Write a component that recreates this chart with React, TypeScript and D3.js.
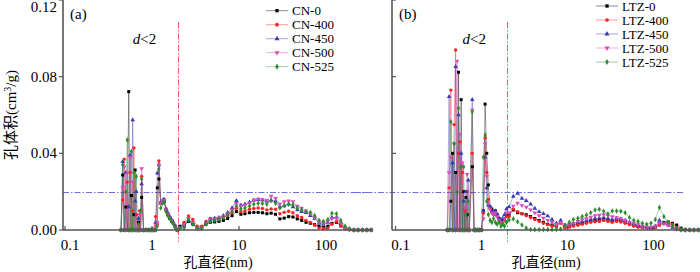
// @ts-nocheck
import React from 'react'
import * as d3 from 'd3'

// pore diameters (nm)
const microA = [0.44, 0.46, 0.48, 0.5, 0.52, 0.54, 0.56, 0.58, 0.6, 0.62, 0.64, 0.66, 0.68, 0.7, 0.72, 0.74, 0.76, 0.8,
  0.85, 0.9, 0.95, 1.0, 1.05, 1.1, 1.15, 1.2, 1.26, 1.32, 1.38, 1.45, 1.52, 1.6, 1.68, 1.76, 1.85, 1.95]
const microB = [0.4, 0.42, 0.44, 0.46, 0.48, 0.5, 0.52, 0.54, 0.56, 0.58, 0.6, 0.62, 0.64, 0.66, 0.68, 0.7, 0.72, 0.78,
  0.82, 0.86, 0.9, 0.95, 1.0, 1.05, 1.1, 1.15, 1.2, 1.26, 1.32, 1.38, 1.45, 1.52, 1.6, 1.68, 1.76, 1.85, 1.95]
const meso = [2.09, 2.34, 2.63, 2.95, 3.31, 3.72, 4.17, 4.68, 5.25, 5.89, 6.61, 7.41, 8.32, 9.33, 10.5, 11.7, 13.2, 14.8,
  16.6, 18.6, 20.9, 23.4, 26.3, 29.5, 33.1, 37.2, 41.7, 46.8, 52.5, 58.9, 66.1, 74.1, 83.2, 93.3, 105, 117, 132, 148,
  166, 186, 209, 234, 263, 295, 331]

// pore volume (cm3/g), panel (a)
const cn0 = [0, .0287, 0, .012, 0, .0722, 0, .018, 0, .008, .0313, 0, 0, .004, 0, 0, .017, 0,
  0, 0, 0, 0, 0, 0, .022, .0266, .014, .0145, .015, .0105, .008, .006, .0045, .0035, .002, 0,
  .002, .003, .0045, .003, .001, .001, .003, .004, .0042, .0045, .005, .006, .0075, .0096, .0082, .0085, .009, .0092,
  .0092, .009, .0085, .0088, .0082, .0058, .0062, .007, .0068, .0058, .005, .004, .0035, .0028, .002, .0015, .002,
  .0035, .004, .0022, .001, .0003, 0, 0, 0, 0, 0]
const cn400 = [0, .0157, .037, 0, .025, 0, .030, 0, .01, .0428, 0, .008, 0, 0, .010, 0, .028, 0,
  0, 0, 0, 0, 0, .007, .003, .036, .0145, .015, .016, .011, .0085, .0065, .005, .0035, .0015, 0,
  .001, .004, .0073, .0055, .002, .002, .0045, .006, .0062, .006, .0065, .0075, .009, .0113, .0095, .01, .0108, .0112,
  .0115, .0112, .0105, .011, .0108, .0085, .0092, .0098, .009, .0075, .0065, .005, .004, .0025, .001, .0008, .001,
  .003, .0045, .002, .0005, 0, 0, 0, 0, 0, 0]
const cn450 = [0, .0357, 0, .030, 0, .012, .039, 0, .0574, 0, .015, .020, 0, .006, 0, 0, .024, 0,
  0, 0, 0, 0, 0, .004, .0297, .034, .0145, .0155, .016, .011, .009, .007, .0055, .004, .002, 0,
  .001, .002, .005, .0035, .001, .001, .0035, .0055, .006, .0065, .0075, .009, .0115, .0153, .013, .0135, .0145, .0155,
  .0158, .0155, .015, .0155, .015, .012, .0125, .0135, .012, .0105, .0095, .009, .0075, .006, .0035, .003, .004,
  .0065, .0065, .004, .0015, .0005, 0, 0, 0, 0, 0]
const cn500 = [0, .022, .033, 0, .030, 0, .038, 0, .025, 0, .012, 0, 0, 0, .008, 0, .032, 0,
  0, 0, 0, 0, 0, .002, .004, .034, .014, .015, .0155, .0105, .0085, .0065, .005, .0035, .0015, 0,
  .001, .003, .006, .004, .001, .001, .0035, .0055, .006, .0062, .007, .0085, .0105, .0139, .0125, .013, .014, .0158,
  .0162, .016, .0155, .0177, .0165, .0135, .0148, .0152, .0148, .0125, .0115, .01, .0085, .0065, .004, .0035, .0045,
  .006, .0062, .0035, .001, .0003, 0, 0, 0, 0, 0]
const cn525 = [0, .034, 0, .020, .047, 0, 0, .041, 0, .030, 0, .028, 0, .003, 0, .010, .0266, 0,
  0, 0, 0, 0, 0, 0, .002, .032, .0115, .014, .0145, .0095, .0075, .006, .0045, .003, .001, 0,
  .001, .001, .0055, .003, .001, .001, .003, .0045, .005, .0055, .0065, .0078, .0095, .0125, .011, .0115, .0125, .0135,
  .014, .0138, .0135, .0153, .014, .0115, .0128, .0135, .0132, .0115, .0105, .0095, .0092, .0075, .005, .0045, .0055,
  .0087, .0085, .005, .002, .0008, 0, 0, 0, 0, 0]

// pore volume (cm3/g), panel (b)
const ltz0 = [0, 0, .015, .040, 0, .030, 0, .0823, 0, .068, 0, .02, 0, .017, .008, 0, 0, .033, 0,
  0, 0, 0, 0, .010, .0657, .040, .0235, .012, .011, .0095, .010, .008, .006, .005, .005, .006, .0075,
  .008, .0105, .009, .0085, .008, .007, .006, .005, .004, .003, .0026, .002, .0045, .0015, .002, .0025, .003, .0035,
  .004, .0045, .005, .005, .0055, .005, .0045, .005, .0048, .004, .003, .0025, .0018, .0015, .0012, .001, .0015,
  .0028, .004, .0042, .0035, .0026, .001, .0003, 0, 0, 0]
const ltz400 = [0, .022, .073, 0, .055, .0939, 0, .040, .046, 0, .030, 0, .010, 0, .020, 0, 0, .040, 0,
  0, 0, 0, 0, .0087, .048, .030, .016, .011, .009, .008, .0085, .007, .005, .004, .004, .005, .007,
  .007, .0109, .0095, .0085, .0075, .0065, .0055, .0045, .0035, .0028, .002, .0018, .0035, .001, .0015, .002, .0025,
  .003, .0035, .004, .0043, .0045, .005, .0045, .004, .0045, .0042, .0035, .0028, .002, .0015, .0012, .001, .0008,
  .0012, .0025, .0035, .0038, .003, .0012, .0003, 0, 0, 0, 0]
const ltz450 = [0, .0696, 0, .035, 0, .0852, 0, .060, 0, .040, 0, .015, 0, .020, 0, .026, 0, .068, 0,
  0, 0, 0, 0, .010, .038, .022, .013, .012, .010, .009, .010, .008, .006, .005, .006, .008, .011,
  .012, .0175, .0191, .0165, .0153, .0135, .0113, .0095, .0085, .0073, .0055, .0035, .005, .0026, .003, .0035, .004,
  .0045, .005, .0055, .006, .0062, .0065, .006, .0055, .006, .0058, .005, .004, .0032, .0025, .002, .0015, .0012,
  .002, .005, .0035, .0025, .0012, .0005, 0, 0, 0, 0, 0]
const ltz500 = [0, .030, .038, 0, .045, 0, .0882, 0, .050, 0, .035, 0, .012, 0, .029, 0, 0, .0626, 0,
  0, 0, 0, 0, .006, .045, .028, .014, .011, .009, .008, .009, .007, .005, .004, .004, .006, .009,
  .009, .0125, .014, .0128, .012, .0105, .009, .0075, .0062, .005, .004, .003, .004, .002, .0028, .0035, .0045,
  .0055, .006, .0068, .0075, .0078, .008, .0075, .007, .0065, .006, .005, .0042, .0035, .0028, .002, .0017, .0015,
  .002, .0035, .0032, .0025, .0015, .0005, 0, 0, 0, 0, 0]
const ltz525 = [0, 0, .0565, 0, .045, 0, .020, .0635, 0, .033, 0, .033, 0, .008, 0, .015, 0, .0617, 0,
  0, 0, 0, 0, .038, .0496, .015, .008, .005, .004, .006, .004, .003, .004, .002, .003, .002, .004,
  .0052, .0058, .0043, .0026, .001, .0003, .0002, .0002, .0002, .0002, .0002, .0003, .0005, .0025, .004, .0055, .0061,
  .007, .0078, .009, .0104, .0108, .0098, .0085, .0099, .0099, .0098, .009, .0065, .005, .0045, .0035, .003, .0035,
  .0055, .0118, .007, .004, .002, .0008, .0002, 0, 0, 0, 0]

const namesA = ['CN-0', 'CN-400', 'CN-450', 'CN-500', 'CN-525']
const namesB = ['LTZ-0', 'LTZ-400', 'LTZ-450', 'LTZ-500', 'LTZ-525']
const xTicks = [0.1, 1, 10, 100]
const yTicks = [0, 0.04, 0.08, 0.12]

const colors = ['#000000', '#ff2020', '#3a3ab8', '#d84cb8', '#2e8b2e']
const symbols = [d3.symbolSquare, d3.symbolCircle, d3.symbolTriangle, d3.symbolTriangle, d3.symbolDiamond]
const serif = '"Liberation Serif", "Times New Roman", serif'
const cjk = '"Noto Sans CJK SC", sans-serif'

const y = d3.scaleLinear().domain([0, 0.12]).range([230, 0])

const Marker = ({ i, cx, cy, size = 9 }) => (
  <path
    d={d3.symbol().type(symbols[i]).size(size)()}
    transform={`translate(${cx},${cy})${i === 3 ? ' rotate(180)' : ''}`}
    fill={colors[i]}
  />
)

const Panel = ({ x, diam, series, names, left, right, yLabels, legendX, legendY, label, hx1, hx2 }) => {
  const line = d3
    .line()
    .x((d) => x(d[0]))
    .y((d) => y(d[1]))
  const x2 = Math.round(x(2)) + 0.5
  const y02 = Math.round(y(0.02)) + 0.5

  return (
    <g>
      <line x1={hx1} x2={hx2} y1={y02} y2={y02} stroke="#6e6ee0" strokeWidth={1} strokeDasharray="6,2,1.5,2" />
      <line x1={x2} x2={x2} y1={22} y2={242} stroke="#ff5a5a" strokeWidth={1} strokeDasharray="6,2,1.5,2" />

      {series.map((s, i) => (
        <path key={'l' + i} d={line(diam.map((d, j) => [d, s[j]]))} fill="none" stroke={colors[i]} strokeOpacity={0.45} strokeWidth={0.9} />
      ))}
      {series.map((s, i) => (
        <g key={'m' + i}>
          {diam.map((d, j) => (
            <Marker key={j} i={i} cx={x(d)} cy={y(s[j])} />
          ))}
        </g>
      ))}

      {/* axes */}
      <line x1={left} x2={left} y1={0} y2={230} stroke="#555" strokeWidth={1.6} />
      <line x1={left} x2={right} y1={230} y2={230} stroke="#555" strokeWidth={1.6} />
      {yTicks.map((t) => (
        <g key={t}>
          {yLabels ? (
            <>
              <line x1={left - 4} x2={left} y1={y(t)} y2={y(t)} stroke="#555" strokeWidth={1.2} />
              <text x={left - 6} y={Math.max(y(t), 7) + 5} textAnchor="end" fontFamily={serif} fontSize={15}>
                {t.toFixed(2)}
              </text>
            </>
          ) : (
            t > 0 && <line x1={left} x2={left + 4} y1={y(t)} y2={y(t)} stroke="#555" strokeWidth={1.2} />
          )}
        </g>
      ))}
      {xTicks.map((t) => (
        <g key={t}>
          <line x1={x(t)} x2={x(t)} y1={230} y2={226} stroke="#555" strokeWidth={1.2} />
          <text x={x(t) + (t === 0.1 ? 5 : 0)} y={250} textAnchor="middle" fontFamily={serif} fontSize={15}>
            {t}
          </text>
        </g>
      ))}
      <text x={(left + right) / 2} y={267} textAnchor="middle" fontSize={14}>
        <tspan fontFamily={cjk}>孔直径</tspan>
        <tspan fontFamily={serif}>(nm)</tspan>
      </text>

      <text x={left + 7} y={19} fontFamily={serif} fontSize={15}>{label}</text>
      <text x={x(0.6)} y={44} fontFamily={serif} fontSize={15}>
        <tspan fontStyle="italic">d</tspan>&lt;2
      </text>

      {/* legend */}
      {names.map((n, i) => (
        <g key={n} transform={`translate(${legendX},${legendY + i * 14})`}>
          <line x1={0} x2={22} y1={0} y2={0} stroke={colors[i]} strokeOpacity={0.45} strokeWidth={1} />
          <Marker i={i} cx={11} cy={0} size={11} />
          <text x={26} y={4.5} fontFamily={serif} fontSize={13}>{n}</text>
        </g>
      ))}
    </g>
  )
}

export default function App() {
  const xA = d3.scaleLog().domain([0.0948, 347]).range([63, 373])
  const xB = d3.scaleLog().domain([0.091, 347]).range([392, 700])
  const diamA = [...microA, ...meso]
  const diamB = [...microB, ...meso]

  return (
    <svg width={700} height={272} style={{ position: 'absolute', left: 0, top: 0, background: '#fff' }}>
      <Panel
        x={xA}
        diam={diamA}
        series={[cn0, cn400, cn450, cn500, cn525]}
        names={namesA}
        left={63}
        right={373}
        yLabels
        legendX={266}
        legendY={10.7}
        label="(a)"
        hx1={63}
        hx2={373}
      />
      <Panel
        x={xB}
        diam={diamB}
        series={[ltz0, ltz400, ltz450, ltz500, ltz525]}
        names={namesB}
        left={392}
        right={700}
        legendX={596}
        legendY={6}
        label="(b)"
        hx1={355}
        hx2={683}
      />
      <text transform="translate(16,115) rotate(-90)" textAnchor="middle" fontSize={15}>
        <tspan fontFamily={cjk}>孔体积</tspan>
        <tspan fontFamily={serif}>(cm</tspan>
        <tspan fontFamily={serif} fontSize={10} dy={-5}>3</tspan>
        <tspan fontFamily={serif} dy={5}>/g)</tspan>
      </text>
    </svg>
  )
}
